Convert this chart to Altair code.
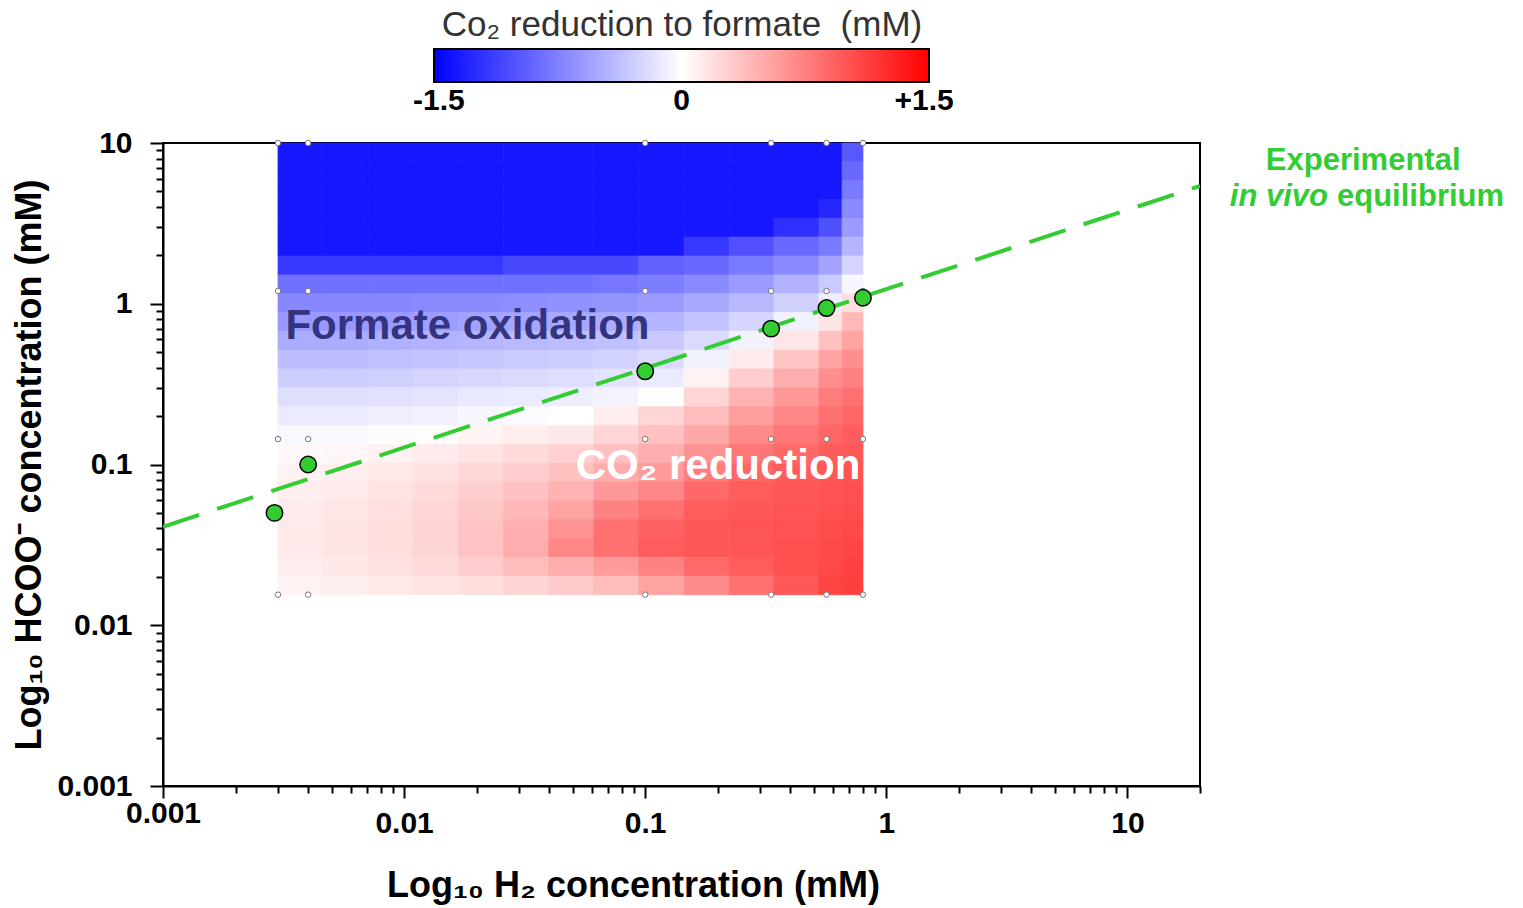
import altair as alt
import pandas as pd

# ---------------- data ----------------
# heat-map cell edges (mM)
h2_edges = [0.003, 0.0046, 0.0071, 0.0109, 0.0168, 0.0258, 0.0398, 0.0612,
            0.094, 0.145, 0.223, 0.342, 0.526, 0.656, 0.8]
hcoo_edges = [10, 7.64, 5.83, 4.45, 3.40, 2.60, 1.98, 1.51, 1.155, 0.882,
              0.674, 0.514, 0.393, 0.300, 0.229, 0.175, 0.1335, 0.1019,
              0.0778, 0.0594, 0.0454, 0.0346, 0.0265, 0.0202, 0.0155]
# CO2 reduction to formate (mM), rows top (high HCOO-) to bottom, columns left to right
rate_rows = [
    [-1.4, -1.4, -1.4, -1.4, -1.4, -1.4, -1.4, -1.4, -1.4, -1.4, -1.4, -1.4, -1.4, -1.0],
    [-1.4, -1.4, -1.4, -1.4, -1.4, -1.4, -1.4, -1.4, -1.4, -1.4, -1.4, -1.4, -1.4, -0.9],
    [-1.4, -1.4, -1.4, -1.4, -1.4, -1.4, -1.4, -1.4, -1.4, -1.4, -1.4, -1.4, -1.4, -0.8],
    [-1.4, -1.4, -1.4, -1.4, -1.4, -1.4, -1.4, -1.4, -1.4, -1.4, -1.4, -1.4, -1.3, -0.7],
    [-1.4, -1.4, -1.4, -1.4, -1.4, -1.4, -1.4, -1.4, -1.4, -1.4, -1.4, -1.25, -1.05, -0.6],
    [-1.4, -1.4, -1.4, -1.4, -1.4, -1.4, -1.4, -1.4, -1.4, -1.2, -1.05, -0.9, -0.8, -0.45],
    [-1.2, -1.2, -1.2, -1.2, -1.2, -1.1, -1.1, -1.1, -0.95, -0.9, -0.8, -0.7, -0.55, -0.25],
    [-0.85, -0.85, -0.85, -0.85, -0.85, -0.85, -0.85, -0.82, -0.78, -0.7, -0.6, -0.46, -0.32, -0.05],
    [-0.72, -0.72, -0.72, -0.7, -0.7, -0.68, -0.66, -0.64, -0.6, -0.52, -0.42, -0.28, -0.1, 0.2],
    [-0.62, -0.62, -0.6, -0.58, -0.56, -0.54, -0.52, -0.5, -0.45, -0.36, -0.25, -0.08, 0.15, 0.42],
    [-0.5, -0.5, -0.48, -0.46, -0.44, -0.42, -0.4, -0.38, -0.33, -0.22, -0.08, 0.15, 0.38, 0.55],
    [-0.4, -0.4, -0.38, -0.36, -0.34, -0.32, -0.3, -0.27, -0.22, -0.08, 0.12, 0.35, 0.55, 0.68],
    [-0.3, -0.3, -0.28, -0.26, -0.24, -0.22, -0.2, -0.17, -0.12, 0.08, 0.3, 0.5, 0.68, 0.76],
    [-0.2, -0.2, -0.18, -0.16, -0.14, -0.12, -0.1, -0.07, 0.0, 0.25, 0.45, 0.62, 0.78, 0.85],
    [-0.12, -0.12, -0.1, -0.08, -0.05, -0.03, 0.0, 0.1, 0.25, 0.4, 0.58, 0.72, 0.86, 0.92],
    [-0.04, -0.04, -0.02, 0.02, 0.06, 0.1, 0.14, 0.25, 0.37, 0.52, 0.7, 0.82, 0.92, 0.97],
    [0.04, 0.05, 0.08, 0.12, 0.16, 0.22, 0.28, 0.38, 0.48, 0.65, 0.82, 0.9, 0.97, 1.0],
    [0.08, 0.1, 0.13, 0.18, 0.24, 0.3, 0.38, 0.5, 0.6, 0.78, 0.92, 0.97, 1.0, 1.03],
    [0.1, 0.13, 0.17, 0.22, 0.29, 0.37, 0.46, 0.62, 0.72, 0.9, 0.98, 1.0, 1.03, 1.05],
    [0.12, 0.15, 0.19, 0.25, 0.33, 0.43, 0.55, 0.75, 0.85, 0.98, 1.0, 1.02, 1.05, 1.07],
    [0.13, 0.16, 0.2, 0.26, 0.36, 0.48, 0.65, 0.85, 0.95, 1.0, 1.02, 1.04, 1.07, 1.1],
    [0.13, 0.16, 0.2, 0.26, 0.36, 0.5, 0.72, 0.85, 0.97, 1.0, 1.02, 1.05, 1.08, 1.12],
    [0.11, 0.14, 0.18, 0.22, 0.3, 0.4, 0.5, 0.6, 0.75, 0.9, 0.98, 1.05, 1.1, 1.14],
    [0.08, 0.1, 0.13, 0.16, 0.2, 0.26, 0.32, 0.4, 0.55, 0.7, 0.85, 1.0, 1.12, 1.16],
]

# simulation grid points (small white dots)
grid_h2 = [0.003, 0.004, 0.1, 0.333, 0.565, 0.8]
grid_hcoo = [10, 1.2, 0.144, 0.0155]

# experimental in vivo points (green)
exp_h2 = [0.0029, 0.004, 0.1, 0.333, 0.565, 0.8]
exp_hcoo = [0.05, 0.1, 0.38, 0.70, 0.94, 1.09]

# experimental equilibrium line (dashed)
line_h2 = [0.001, 20]
line_hcoo = [0.041, 5.4]

legend_values = [-1.5, 0, 1.5]

# ---------------- build tables ----------------
cells = []
for i in range(len(hcoo_edges) - 1):
    for j in range(len(h2_edges) - 1):
        cells.append(dict(x=h2_edges[j], x2=h2_edges[j + 1],
                          y=hcoo_edges[i], y2=hcoo_edges[i + 1],
                          v=rate_rows[i][j]))
heat_df = pd.DataFrame(cells)
grid_df = pd.DataFrame([dict(x=a, y=b) for a in grid_h2 for b in grid_hcoo])
exp_df = pd.DataFrame(dict(x=exp_h2, y=exp_hcoo))
line_df = pd.DataFrame(dict(x=line_h2, y=line_hcoo))

x_ticks = [float(f"{m}e{e}") for e in range(-3, 2) for m in range(1, 10)]
x_ticks = [t for t in x_ticks if t <= 20]
y_ticks = [float(f"{m}e{e}") for e in range(-3, 1) for m in range(1, 10)] + [10.0]

FONT = "Liberation Sans"
GREEN = "#33cc33"
MAJOR = "abs(log(datum.value)/LN10 - round(log(datum.value)/LN10)) < 0.01"

x_scale = alt.Scale(type="log", domain=[0.001, 20])
y_scale = alt.Scale(type="log", domain=[0.001, 10])
c_scale = alt.Scale(domain=[-1.53, 0, 1.53], range=["#0000ff", "#ffffff", "#ff0000"],
                    interpolate="rgb", clamp=True)

x_axis = alt.Axis(
    values=x_ticks, format="~g", labelExpr=f"({MAJOR}) ? datum.label : ''",
    tickSize={"condition": {"test": MAJOR, "value": 12}, "value": 7},
    labelPadding={"condition": {"test": "datum.value < 0.002", "value": 0}, "value": 10},
    labelFlush=False, labelOverlap=False, grid=False,
    domainColor="black", domainWidth=2, tickColor="black", tickWidth=2,
    labelFont=FONT, labelFontSize=30, labelFontWeight="bold", labelColor="black",
    title="Log₁₀ H₂ concentration (mM)", titleFont=FONT, titleFontSize=36,
    titleFontWeight="bold", titleColor="black", titlePadding=30, titleX=470,
)
y_axis = alt.Axis(
    values=y_ticks, format="~g", labelExpr=f"({MAJOR}) ? datum.label : ''",
    tickSize={"condition": {"test": MAJOR, "value": 13}, "value": 7},
    labelPadding=18, labelFlush=False, labelOverlap=False, grid=False,
    domainColor="black", domainWidth=2, tickColor="black", tickWidth=2,
    labelFont=FONT, labelFontSize=30, labelFontWeight="bold", labelColor="black",
    title="Log₁₀ HCOO⁻ concentration (mM)", titleFont=FONT, titleFontSize=36,
    titleFontWeight="bold", titleColor="black", titlePadding=8,
)


def X(field="x"):
    return alt.X(f"{field}:Q", scale=x_scale, axis=x_axis)


def Y(field="y"):
    return alt.Y(f"{field}:Q", scale=y_scale, axis=y_axis)


legend = alt.Legend(
    type="gradient", orient="none", direction="horizontal", legendX=271, legendY=-135,
    gradientLength=495, gradientThickness=33,
    gradientStrokeColor="black", gradientStrokeWidth=2,
    title="Co₂ reduction to formate\u00a0 (mM)", titleFont=FONT, titleFontSize=35,
    titleFontWeight="normal", titleColor="#333333", titleAnchor="middle",
    titleOrient="top", titlePadding=6, titleLimit=800, padding=0,
    values=legend_values, labelAlign="center", labelOffset=4,
    labelFont=FONT, labelFontSize=30, labelFontWeight="bold", labelColor="black",
    labelOverlap=False,
    labelExpr="datum.value > 0 ? '+' + format(datum.value, '.1f') : "
              "(datum.value < 0 ? '-' + format(-datum.value, '.1f') : '0')",
)

heat = alt.Chart(heat_df).mark_rect(
    stroke=alt.ExprRef("scale('color', datum.v)"), strokeWidth=0.8
).encode(
    x=X(), x2="x2", y=Y(), y2="y2",
    color=alt.Color("v:Q", scale=c_scale, legend=legend),
)

grid_pts = alt.Chart(grid_df).mark_circle(
    color="white", stroke="#777777", strokeWidth=1, size=30, opacity=1
).encode(x=X(), y=Y())

eq_line = alt.Chart(line_df).mark_line(
    color=GREEN, strokeWidth=4, strokeDash=[38, 19], clip=True
).encode(x=X(), y=Y())

exp_pts = alt.Chart(exp_df).mark_circle(
    color=GREEN, stroke="black", strokeWidth=1.5, size=270, opacity=1
).encode(x=X(), y=Y())


def label(x, y, text, **kw):
    df = pd.DataFrame(dict(x=[x], y=[y], t=[text]))
    return alt.Chart(df).mark_text(font=FONT, fontWeight="bold", baseline="middle", **kw).encode(
        x=X(), y=Y(), text="t:N")


txt_ox = label(0.00322, 0.727, "Formate oxidation", align="left", fontSize=42, color="#33337f")
txt_red = label(0.78, 0.098, "CO₂ reduction", align="right", fontSize=42, color="white")
txt_exp1 = label(95, 7.73, "Experimental", align="center", fontSize=31, color=GREEN)
txt_exp2 = label(67.9, 4.61, "in vivo", align="right", fontSize=31, color=GREEN, fontStyle="italic")
txt_exp3 = label(74.0, 4.61, "equilibrium", align="left", fontSize=31, color=GREEN)

chart = alt.layer(
    heat, grid_pts, eq_line, exp_pts, txt_ox, txt_red, txt_exp1, txt_exp2, txt_exp3
).properties(
    width=1037, height=643,
    padding={"left": 163, "top": 143, "right": 320, "bottom": 122},
    autosize=alt.AutoSizeParams(type="none"),
    background="white",
).configure_view(stroke="black", strokeWidth=2)

chart.save("out.html", embed_options={"renderer": "svg", "actions": False})
